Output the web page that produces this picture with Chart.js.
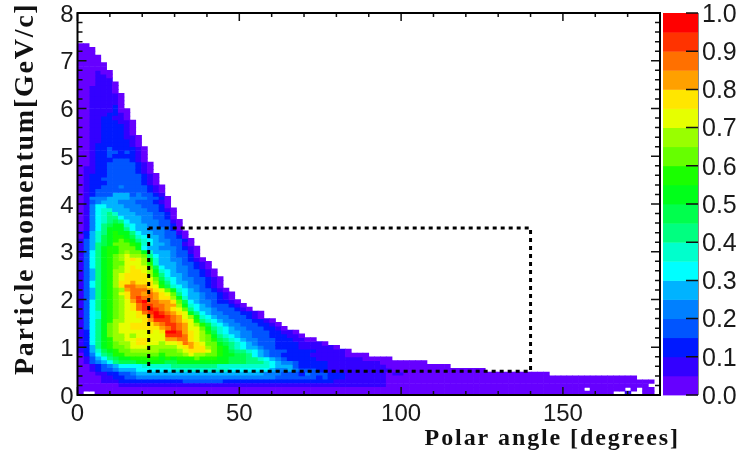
<!DOCTYPE html>
<html>
<head>
<meta charset="utf-8">
<style>html,body{margin:0;padding:0;background:#fff}canvas{display:block}</style>
<script src="https://cdn.jsdelivr.net/npm/chart.js@4"></script>
</head>
<body>
<canvas id="histChart" width="741" height="452"></canvas>
<script>
// colour bins, lowest first, each one is 0.05 wide
const binColors = ['#6600ff','#3300ff','#0019ff','#0055ff','#0080ff','#00b3ff','#00ffff','#00ffcc','#00ff80','#00ff4d',
    '#00ff1a','#1aff00','#66ff00','#99ff00','#e6ff00','#ffe600','#ffa000','#ff7000','#ff3300','#ff0000'];
const binKeys = '0123456789abcdefghij';

const angleBinWidth = 1.8;
const momentumBinWidth = 0.08;

const angleTicks = [0, 50, 100, 150];
const momentumTicks = [0, 1, 2, 3, 4, 5, 6, 7, 8];
const scaleTicks = [0, 0.1, 0.2, 0.3, 0.4, 0.5, 0.6, 0.7, 0.8, 0.9, 1];

const boxAngles = [22, 140, 140, 22, 22];
const boxMomenta = [3.5, 3.5, 0.5, 0.5, 3.5];

// top row first. one char per angle bin, '.' = empty bin
const histRows = [
    '00','000','000','0000','0000','00000','00000','000100','000110','000111',
    '0001110','0011110','0011110','00111110','00111110','00111110','00111120',
    '001111200','001112210','001122110','0011222110','0011222210','0011222210','0011222210',
    '00112222110','00112222210','00122222210','001223222210','001223323210','001223222210','001222333210',
    '0012233333210','0112233333210','0112233333210','01222333333210','01223333333210','01222333333210',
    '012233343333210','012333333333210','012333555343321','0144455554443320',
    '0134555444333210','0146655544433320','01467755544433210','01467875554443320','01467886555443320',
    '014678986554443310','014689aa7655443320','01468aaa8655444320',
    '12578abaa8655443310','02579abba9765543320',
    '13579abcba8765443320','13589acccba765543310',
    '135 8abbccca6554 443210',
    '136 8abbcdcca755 543310',
    '136 8abcdeddc865 543320',
    '136 8abcdefeda75 5443210',
    '136 8abcceeedb75 55433210',
    '136 8abcdefeec96 55443210',
    '135 8abddeffeda7 654433210',
    '135 8abdeffffdb8 655433210',
    '135 8abdeffffec9 7654433210',
    '136 8abdffgfffda 8655433210',
    '136 8abdfhhggfeb 9765443210',
    '135 8abcdghhhgfe ca765433210',
    '135 8abcefhhghgf ec8655433210',
    '135 8abcdfhihhgf fda755433210',
    '136 8abcdegijhhg gfc9654432210',
    '136 8abcdefhiihh ggda7654333210',
    '136 8abcdefhijih gfec86554333210',
    '136 7abcdeefhiji hgfea865443332210',
    '136 7abcdeeffhjj ihgeda76544333210',
    '136 8abddeeefgii ihgfeb8765443332210',
    '136 8acdeeffffgh iihgedb9765443332210',
    '136 8acdeefffffg hihgeeca8765443332210',
    '126 8acdeeeeefef jjigfedb976554433322110',
    '126 8acddedeeeee iiihfedca876544333222110',
    '126 8abddeeffeee gghhfedcb98765443332221100',
    '126 8abcddeffeed eefhgfecca98765 4333222211 110',
    '125 8abccdeeeddd ddefgffdcba8765 5433222211 11110',
    '125 79abccdddddc ccdefffecba9887 6543332222 2111110',
    '024 689bbccccccb cccdeddccbaa998 6543322222 1111110000',
    '013 5689aabbbbba babbbcbbbaa9998 8765432222 2111111110 0000',
    '013 4568999aaaaa 99aaaaaaaaa9998 8876544322 2221111111 1100000000',
    '0012345666 6777778888 8888777777 7776555322 2221111111 1110000000 0000',
    '0012334555 6666667777 7777776666 6665445433 3221111111 1111000000 0000000000',
    '0001122334 5555555555 5555555555 5544433324 3332221111 1110110000 0000000000 0000000000 0',
    '0000112233 4444444444 4444444444 4444333333 3232221111 1110000000 0000000000 0000000000 0000000000 000000',
    '0000111222 2222222233 3333322222 2222222222 2222111111 1110000000 0000000000 0000000000 0000000000 000000000',
    '0000000111 1111111111 1111111111 1111111111 1111111111 1110000000 0000000000 0000000000 0000000000 00000000.',
    '0000000000 0000000000 0000000000 0000000000 0000000000 0000000000 0000000000 0000000000 0000000.00 0000.0.00',
    '0..0000000 0000000000 0000000000 0000000000 0000000000 0000000000 0000000000 0000000000 0000000000 00..1..00'
];

// one bar dataset per colour bin, each cell is a floating bar
const binData = binColors.map(() => []);
histRows.forEach((row, i) => {
    const r = histRows.length - 1 - i;
    row.replace(/ /g, '').split('').forEach((key, c) => {
        if (key === '.') return;
        binData[binKeys.indexOf(key)].push({
            x: (c + 0.5) * angleBinWidth,
            y: [r * momentumBinWidth, (r + 1) * momentumBinWidth]
        });
    });
});

const datasets = binColors.map((color, i) => ({
    data: binData[i],
    backgroundColor: color,
    borderWidth: 0,
    barThickness: 5.83,
    grouped: false
}));

datasets.unshift({
    type: 'scatter',
    data: boxAngles.map((a, i) => ({x: a, y: boxMomenta[i]})),
    showLine: true,
    borderColor: '#000',
    borderWidth: 3,
    borderDash: [4, 4],
    pointRadius: 0,
    order: -1
});

/*
 * Inward ticks, frame and colour bar
 */
const frameTicks = {
    id: 'frameTicks',
    afterDatasetsDraw(chart) {
        const {ctx, chartArea: {top, right, bottom, left}, scales: {x, y, z}} = chart;
        ctx.save();
        ctx.strokeStyle = '#111';
        ctx.lineWidth = 1.5;
        ctx.beginPath();
        for (let v = 0; v <= 180; v += 10) {
            const len = v % 50 === 0 ? 8 : 4;
            const px = x.getPixelForValue(v);
            ctx.moveTo(px, bottom); ctx.lineTo(px, bottom - len);
            ctx.moveTo(px, top); ctx.lineTo(px, top + len);
        }
        for (let i = 0; i <= 40; i++) {
            const len = i % 5 === 0 ? 9 : 5;
            const py = y.getPixelForValue(i * 0.2);
            ctx.moveTo(left, py); ctx.lineTo(left + len, py);
            ctx.moveTo(right, py); ctx.lineTo(right - len, py);
        }
        ctx.stroke();
        ctx.strokeStyle = '#000';
        ctx.lineWidth = 2;
        ctx.strokeRect(left, top, right - left, bottom - top);

        binColors.forEach((color, i) => {
            const y0 = z.getPixelForValue(i * 0.05);
            const y1 = z.getPixelForValue((i + 1) * 0.05);
            ctx.fillStyle = color;
            ctx.fillRect(663, y1, 35, y0 - y1 + 0.4);
        });
        ctx.strokeStyle = '#888';
        ctx.lineWidth = 1;
        ctx.beginPath();
        ctx.moveTo(698.5, top); ctx.lineTo(698.5, bottom);
        ctx.stroke();
        ctx.strokeStyle = '#111';
        ctx.lineWidth = 1.5;
        ctx.beginPath();
        scaleTicks.forEach(v => {
            const py = z.getPixelForValue(v);
            ctx.moveTo(686, py); ctx.lineTo(698, py);
        });
        ctx.stroke();
        ctx.restore();
    }
};

/*
 * Axis titles, they stick out past the plot area and are letter spaced
 */
const axisTitles = {
    id: 'axisTitles',
    afterDraw(chart) {
        const {ctx} = chart;
        ctx.save();
        ctx.fillStyle = '#111';
        ctx.textBaseline = 'alphabetic';
        ctx.textAlign = 'right';
        ctx.font = 'bold 24px "Liberation Serif"';
        ctx.letterSpacing = '1.9px';
        ctx.fillText('Polar angle [degrees]', 680, 445);

        ctx.translate(33, 375);
        ctx.rotate(-Math.PI / 2);
        ctx.textAlign = 'left';
        ctx.font = 'bold 28px "Liberation Serif"';
        ctx.letterSpacing = '1.75px';
        ctx.fillText('Particle momentum[GeV/c]', 0, 0);
        ctx.restore();
    }
};

const tickFont = {family: '"Liberation Sans"', size: 24};

// the tick padding must not push the plot area in
function noMargins(scale) {
    scale.paddingTop = 0;
    scale.paddingBottom = 0;
    scale.paddingLeft = 0;
    scale.paddingRight = 0;
}

// digits sit about 2px under the tick in the reference
function nudgeLabels(scale) {
    const base = Object.getPrototypeOf(scale).getLabelItems;
    scale.getLabelItems = function (area) {
        const fresh = !this._labelItems;
        const items = base.call(this, area);
        if (fresh) items.forEach(item => { item.options.translation[1] += 2; });
        return items;
    };
}

new Chart(document.getElementById('histChart').getContext('2d'), {
    type: 'bar',
    plugins: [frameTicks, axisTitles],
    data: {datasets: datasets},
    options: {
        responsive: false,
        animation: false,
        events: [],
        layout: {padding: {top: 13}},
        plugins: {legend: {display: false}, tooltip: {enabled: false}},
        scales: {
            x: {
                type: 'linear',
                offset: false,
                min: 0,
                max: 180,
                grid: {display: false, drawTicks: false, offset: false},
                border: {display: false},
                afterFit(scale) { scale.height = 57; noMargins(scale); },
                afterBuildTicks(scale) { scale.ticks = angleTicks.map(v => ({value: v})); },
                ticks: {color: '#1a1a1a', font: tickFont, padding: 5, maxRotation: 0, autoSkip: false}
            },
            y: {
                type: 'linear',
                min: 0,
                max: 8,
                grid: {display: false, drawTicks: false},
                border: {display: false},
                afterFit(scale) { scale.width = 77.5; noMargins(scale); },
                afterBuildTicks(scale) { scale.ticks = momentumTicks.map(v => ({value: v})); },
                afterUpdate: nudgeLabels,
                ticks: {color: '#1a1a1a', font: tickFont, padding: 4, autoSkip: false}
            },
            z: {
                type: 'linear',
                position: 'right',
                min: 0,
                max: 1,
                grid: {display: false, drawTicks: false},
                border: {display: false},
                afterFit(scale) { scale.width = 81; noMargins(scale); },
                afterBuildTicks(scale) { scale.ticks = scaleTicks.map(v => ({value: v})); },
                afterUpdate: nudgeLabels,
                ticks: {
                    color: '#1a1a1a',
                    font: {family: '"Liberation Sans"', size: 25},
                    padding: 42,
                    autoSkip: false,
                    callback: v => v.toFixed(1)
                }
            }
        }
    }
});
</script>
</body>
</html>
